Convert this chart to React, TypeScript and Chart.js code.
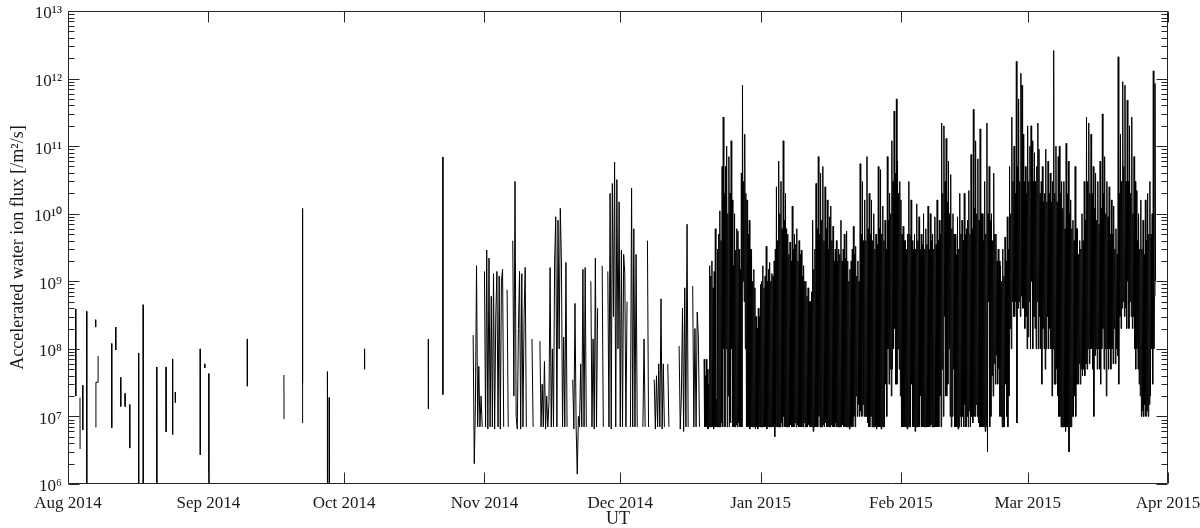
import React, { useEffect, useRef } from 'react';
import { Chart, registerables } from 'chart.js';

Chart.register(...registerables);

// ---- axis ticks (days since 1 Aug 2014) ----
const monthTickDays = [0, 31, 61, 92, 122, 153, 184, 212, 243];
const monthTickLabels = ['Aug 2014', 'Sep 2014', 'Oct 2014', 'Nov 2014', 'Dec 2014', 'Jan 2015', 'Feb 2015', 'Mar 2015', 'Apr 2015'];
const decadeExponents = [6, 7, 8, 9, 10, 11, 12, 13];
const decadeLabels = ['10⁶', '10⁷', '10⁸', '10⁹', '10¹⁰', '10¹¹', '10¹²', '10¹³'];
const minorMultipliers = [2, 3, 4, 5, 6, 7, 8, 9];

// ---- sparse bursts, Aug - Oct 2014 (null = data gap) ----
const burstDays = [
  1.70, 1.72, 1.73, 2.65, 2.67, 2.68, 3.25, 3.27, 3.28, 4.13, 4.15, 4.16,
  6.10, 6.12, 6.13, 6.15, 6.17, 6.63, 6.65, 6.66, 9.65, 9.67, 9.68,
  10.54, 10.56, 10.57, 11.64, 11.66, 11.67, 12.60, 12.62, 12.63, 13.63, 13.65, 13.66,
  15.60, 15.62, 15.63, 16.60, 16.62, 16.63, 19.60, 19.62, 19.63, 21.65, 21.67, 21.68,
  23.10, 23.12, 23.13, 23.70, 23.72, 23.73, 29.20, 29.22, 29.23, 30.20, 30.22, 30.23,
  31.10, 31.12, 31.13, 39.60, 39.62, 39.63, 47.70, 47.72, 47.73,
  51.78, 51.80, 51.82, 51.84, 51.86, 51.87, 57.30, 57.32, 57.33, 57.70, 57.72, 57.73,
  65.50, 65.52, 65.53, 79.60, 79.62, 79.63, 82.80, 82.82, 82.83,
];
const burstFlux = [
  3.9e8, 2.0e7, null, 1.9e7, 3.3e6, null, 2.9e7, 6.3e6, null, 3.6e8, 8e5, null,
  2.7e8, 2.1e8, null, 6.9e6, 3.2e7, 3.2e7, 7.8e7, null, 1.2e8, 6.8e6, null,
  2.1e8, 9.6e7, null, 3.8e7, 1.4e7, null, 2.2e7, 1.4e7, null, 1.5e7, 3.4e6, null,
  8.7e7, 8e5, null, 4.5e8, 8e5, null, 5.4e7, 8e5, null, 5.4e7, 5.9e6, null,
  7.1e7, 5.4e6, null, 2.3e7, 1.6e7, null, 1.0e8, 2.7e6, null, 6.0e7, 5.2e7, null,
  4.3e7, 8e5, null, 1.4e8, 2.8e7, null, 4.1e7, 9.1e6, null,
  8e6, 1.2e10, 3e7, 2.9e8, 3.1e7, null, 4.6e7, 8e5, null, 1.9e7, 8e5, null,
  1.0e8, 5.0e7, null, 1.4e8, 1.3e7, null, 6.9e10, 2.1e7, null,
];

// ---- record from 28 Oct 2014, one value every 6 h (null = gap) ----
const autumnStartDay = 89;
const autumnStepDays = 0.25;
const autumnFlux = [
  null, null, 1.6e8, 2e6,      // 89
  1.5e7, 1.7e9, 7e6, 5.5e7,    // 90
  7e6, 2e7, 7e6, null,         // 91
  1.4e9, 7e6, 2.9e9, 6.5e6,    // 92
  2.2e9, 7e6, 6e8, 7e6,        // 93
  1.3e9, 6.5e6, 3e8, 1.4e9,    // 94
  7e6, 1.2e9, 6.5e6, 1e9,      // 95
  1.5e9, 7e6, null, null,      // 96
  7.5e8, 7e6, null, null,      // 97
  null, 4e9, 2e7, 3e10,        // 98
  1e7, 6.5e6, 2e8, 1.4e9,      // 99
  6.5e6, 1.3e9, 7e6, 3e8,      // 100
  1.6e9, 7e6, null, null,      // 101
  null, null, 1.4e8, 7e6,      // 102
  null, null, null, null,      // 103
  null, 1.3e8, 7e6, 3e7,       // 104
  7e6, 6.5e7, 6.5e6, 2e7,      // 105
  7e6, 1.6e7, 1.6e9, 7e6,      // 106
  1e8, 7e6, 2e9, 9e9,          // 107
  7e6, 8e9, 1e8, 1.2e10,       // 108
  2e9, 7e6, 1.5e8, 7e6,        // 109
  1.9e9, 7e6, null, null,      // 110
  null, null, 3.5e7, 6.5e6,    // 111
  4.7e8, 7e6, 1.4e6, 1e7,      // 112
  7e6, 6e7, 7e6, 1.5e9,        // 113
  7e6, 1.6e9, 7e6, null,       // 114
  null, null, 1e9, 7e6,        // 115
  1.4e8, 6.5e6, 2.2e9, 7e6,    // 116
  4e8, null, null, null,       // 117
  1.7e9, 7e6, null, null,      // 118
  null, 1.4e9, 7e6, 2e10,      // 119
  6.5e6, 2.8e10, 3e8, 5.8e10,  // 120
  7e6, 3.2e10, 1e8, 1.5e10,    // 121
  7e6, 2.9e9, 7e6, 2.5e9,      // 122
  1.3e9, 7e6, 5e8, null,       // 123
  null, 7e6, 2.4e10, 7e6,      // 124
  6e9, 7e6, 2.5e9, 7e6,        // 125
  null, null, null, null,      // 126
  7e6, 1.4e8, 7e6, null,       // 127
  4e9, 7e6, null, null,        // 128
  null, null, 3.5e7, 6.5e6,    // 129
  4e7, 7e6, 6e7, 7e6,          // 130
  5.5e8, 6.5e6, 6e7, 7e6,      // 131
  null, null, 6e7, 7e6,        // 132
  null, null, null, null,      // 133
  null, null, null, null,      // 134
  1.1e8, 6.5e6, 2e7, 4e8,      // 135
  6e6, 8e8, 7e6, 7e9,          // 136
  7e6, null, null, null,       // 137
  8.5e8, 7e6, 2e8, 7e6,        // 138
  3.5e8, 1.5e8, 7e6, null,     // 139
];

// ---- record from 19 Dec 2014, one value every 3 h (null = gap) ----
const winterStartDay = 140;
const winterStepDays = 0.125;
const winterFlux = [
  null, null, null, null, 7e7, 7e6, 4e7, 7e6,                 // 140
  7e7, 7e6, 5e7, 6.5e6, 3e7, 7e6, 1.7e9, 7e6,                 // 141
  1.2e9, 7e6, 2e9, 7e6, 8e8, 6.5e6, 1.4e9, 7e6,               // 142
  6e9, 7e6, 1.8e7, 7e6, 3e9, 7e6, 5e9, 7e6,                   // 143
  1.1e10, 7e6, 4e9, 8e6, 5e10, 7e6, 2.7e11, 1e8,              // 144
  2e10, 7e6, 5e10, 1e8, 1e11, 7e6, 1e10, 2e7,                 // 145
  7e10, 7e6, 2e10, 8e6, 1.2e11, 1e8, 1.6e10, 7e6,             // 146
  1.7e9, 7e6, 1e10, 7e6, 2.9e9, 7.5e6, 6e9, 7e6,              // 147
  5.5e9, 8e6, 3e9, 7e6, 1.5e9, 7e6, 4e10, 7e6,                // 148
  8e11, 1e9, 3e10, 5e8, 1.5e11, 1e8, 2e10, 7e6,               // 149
  1.6e10, 7e6, 5e9, 7e6, 8e9, 6.5e6, 3e9, 7e6,                // 150
  3e9, 7e6, 1e9, 7e6, 1.5e9, 7e6, 8e8, 6.5e6,                 // 151
  3e8, 7e6, 2e8, 6.5e6, 4e8, 7e6, 3e8, 7e6,                   // 152
  9e8, 7e6, 1e9, 7e6, 1.7e9, 7e6, 8e8, 7e6,                   // 153
  1.2e9, 7e6, 3.3e9, 6.5e6, 1e9, 7e6, 1.5e9, 7e6,             // 154
  1.9e9, 7e6, 1e9, 7e6, 1.3e9, 7e6, 1.2e9, 7e6,               // 155
  2e9, 5e6, 3e9, 7e6, 2.5e10, 7e6, 4e9, 7e6,                  // 156
  6e10, 7e6, 1e10, 7e6, 3e10, 8e6, 6e9, 7e6,                  // 157
  1.2e11, 1e7, 8e9, 7e6, 2e10, 7e6, 6e9, 7e6,                 // 158
  5e9, 7e6, 2.5e9, 7e6, 3.8e9, 7.5e6, 2e9, 7e6,               // 159
  1.3e10, 7e6, 3e9, 7e6, 5e9, 8e6, 3.5e9, 7e6,                // 160
  6e9, 7.5e6, 2e9, 7e6, 4e9, 7e6, 2.5e9, 7e6,                 // 161
  2.9e9, 7e6, 1.2e9, 7e6, 1.7e9, 8e6, 1e9, 7e6,               // 162
  1e9, 7e6, 6e8, 7e6, 8e8, 7.5e6, 5e8, 7e6,                   // 163
  5e8, 7e6, 7e8, 7e6, 8e9, 6e6, 1.5e9, 7e6,                   // 164
  3e9, 7e6, 2.8e10, 7e6, 6e9, 7e6, 7e10, 1e7,                 // 165
  5e9, 7e6, 4e10, 7e6, 8e9, 7e6, 5e10, 7.5e6,                 // 166
  4e9, 7e6, 2.5e10, 8e6, 6e9, 7e6, 1.6e10, 7e6,               // 167
  3e9, 7e6, 9e9, 7e6, 1.3e10, 7.5e6, 4e9, 7e6,                // 168
  6.5e9, 7e6, 2e9, 7e6, 3e9, 8e6, 4e9, 7e6,                   // 169
  2e9, 7e6, 3e9, 7e6, 2.5e9, 7e6, 8e9, 7e6,                   // 170
  2e9, 7.5e6, 3e9, 7e6, 5e9, 7e6, 2.2e9, 7e6,                 // 171
  5.5e9, 7e6, 2e9, 7e6, 1e9, 6.5e6, 1.5e9, 7e6,               // 172
  2e9, 7e6, 3e9, 7e6, 6.5e9, 1e7, 2.5e9, 7e6,                 // 173
  3.3e9, 2e7, 1.2e9, 1e7, 2e9, 1.5e7, 1e9, 1e7,               // 174
  5.5e10, 1.2e7, 5e9, 1e7, 3e10, 1.5e7, 4e9, 1e7,             // 175
  1.6e10, 1e7, 4e9, 1e7, 7e10, 8e6, 6e9, 7e6,                 // 176
  2e10, 7e6, 5e9, 1e7, 1.6e10, 7e6, 4e9, 7e6,                 // 177
  1e10, 7e6, 3e9, 7e6, 5e9, 6.5e6, 3.5e9, 7e6,                // 178
  5e10, 7e6, 6e9, 7e6, 4.5e10, 6.5e6, 5e9, 7e6,               // 179
  1.3e10, 7e6, 4e9, 7e6, 8e9, 3e7, 3e9, 1e7,                  // 180
  7e10, 1e8, 8e9, 3e7, 2e10, 5e7, 1e10, 2e7,                  // 181
  1.2e11, 5e7, 3e10, 1e8, 3.3e11, 2e8, 4e10, 3e7,             // 182
  5e11, 3e7, 6e10, 1e8, 2e10, 5e7, 3e10, 2e7,                 // 183
  1.6e10, 7e6, 5e9, 7e6, 6.5e9, 7e6, 4e9, 7e6,                // 184
  4e9, 7e6, 3e9, 6.5e6, 5e9, 7e6, 3e10, 7e6,                  // 185
  5e9, 7e6, 1.6e10, 3e7, 4e9, 7e6, 3e9, 7e6,                  // 186
  5e9, 6e6, 3e9, 7e6, 1.4e10, 7e6, 4e9, 7e6,                  // 187
  9e9, 7e6, 3e9, 2e7, 5e9, 7e6, 3.5e9, 7e6,                   // 188
  1e10, 7e6, 3e9, 7e6, 6e9, 7e6, 3.5e9, 7e6,                  // 189
  1.3e10, 7e6, 3e9, 7e6, 1e10, 7.5e6, 4e9, 7e6,               // 190
  5e9, 7e6, 3e9, 7e6, 9e9, 7e6, 3.5e9, 7e6,                   // 191
  1.6e10, 7e6, 4e9, 7e6, 8e9, 2e7, 5e9, 7e6,                  // 192
  2.2e11, 5e7, 2e10, 1e7, 2e11, 3e8, 3e10, 2e7,               // 193
  1.3e11, 2e7, 1.5e10, 3e7, 6e10, 1e8, 1e10, 1e7,             // 194
  3.8e10, 7e6, 6e9, 1e7, 1e10, 5e7, 5e9, 7e6,                 // 195
  5e9, 7e6, 2.5e9, 7e6, 9e9, 6.5e6, 3e9, 7e6,                 // 196
  2e10, 1e7, 5e9, 7e6, 8e9, 1e7, 4e9, 7e6,                    // 197
  2e10, 1.5e7, 5e9, 7e6, 6e9, 1e7, 8e9, 7e6,                  // 198
  2.2e10, 1.2e7, 5e9, 7e6, 7.5e10, 1e7, 6e9, 8e6,             // 199
  3.5e11, 1e7, 1.2e10, 1e7, 1.2e11, 1.5e7, 1e10, 1e7,         // 200
  6.5e10, 8e6, 8e9, 7e6, 1.8e11, 7e6, 1e10, 7e6,              // 201
  1e10, 7e6, 4e9, 7e6, 3e10, 6e6, 5e9, 7e6,                   // 202
  2.2e11, 3e6, 1e10, 5e8, 5e10, 7e6, 8e9, 1e7,                // 203
  1e10, 4e7, 4e9, 2e7, 4e10, 6e7, 5e9, 3e7,                   // 204
  5e9, 8e7, 2e9, 3e7, 3e9, 5e7, 2e9, 1e7,                     // 205
  1.7e9, 1e7, 1e9, 7e6, 3e9, 7e6, 1.2e9, 7e6,                 // 206
  4.5e9, 3e7, 2e9, 1e7, 9e9, 7e6, 3e9, 2e7,                   // 207
  5e10, 2e8, 1e10, 1e8, 2.7e11, 5e8, 3e10, 3e8,               // 208
  1e11, 3e8, 2e10, 5e8, 1.8e12, 8e6, 5e10, 4e8,               // 209
  5e11, 5e8, 3e10, 3e8, 1.2e12, 6e8, 8e11, 4e8,               // 210
  1.5e11, 4e8, 3e10, 2e8, 5e10, 3e8, 2e10, 1e8,               // 211
  2e11, 1.5e8, 3e10, 5e8, 1e11, 1e8, 2e11, 1e9,               // 212
  1.2e11, 1e8, 3e10, 3e8, 8e10, 2e8, 3e10, 1e8,               // 213
  5e10, 5e8, 2.2e11, 1e8, 9e10, 3e8, 2e10, 1e8,               // 214
  3e10, 3e7, 5e10, 2e8, 1.5e10, 1e8, 2e10, 5e7,               // 215
  9e10, 1e8, 1.5e10, 3e8, 6e10, 1e8, 2e10, 2e8,               // 216
  4e10, 1e8, 1.5e10, 2e7, 3e10, 1e8, 2.6e12, 3e7,             // 217
  2e10, 3e7, 1e11, 5e7, 1.5e10, 2e7, 7e10, 1e7,               // 218
  1e11, 1e7, 2e10, 7e6, 3e10, 7e6, 1.2e10, 7e6,               // 219
  3e10, 7e6, 6e9, 6e6, 1.1e11, 7e6, 2e10, 7e6,                // 220
  6e10, 3e6, 1e10, 7e6, 1.6e10, 7e6, 6e9, 1e7,                // 221
  8e9, 1e7, 4e9, 2e7, 5e10, 1e7, 6e9, 3e7,                    // 222
  6e9, 3e7, 2.5e9, 6e7, 4e9, 3e7, 3e9, 5e7,                   // 223
  1e10, 4e7, 4e9, 5e7, 3e10, 4e7, 8e9, 6e7,                   // 224
  2.7e11, 5e7, 3e10, 1e8, 2.2e11, 6e7, 2e10, 1e8,             // 225
  1.5e11, 1e8, 2e10, 5e7, 5e10, 1e7, 1.2e10, 8e7,             // 226
  4e10, 1e8, 8e9, 5e7, 3e10, 1e8, 7e9, 5e7,                   // 227
  6e10, 3e7, 1.2e10, 1e8, 3e11, 2e8, 2e10, 5e7,               // 228
  7e10, 1e8, 1e10, 2e7, 3e10, 1e8, 9e9, 5e7,                  // 229
  2.5e10, 1e8, 5e9, 5e7, 1.6e10, 1e8, 5e9, 6e7,               // 230
  1.3e10, 2e8, 3e9, 6e7, 6e9, 1e8, 2.5e9, 8e7,                // 231
  2.1e12, 3e7, 2e10, 3e8, 1.5e11, 2e8, 3e10, 4e8,             // 232
  9e11, 5e8, 5e10, 3e8, 8e11, 4e8, 3e10, 2e8,                 // 233
  4.8e11, 1e9, 3e10, 2e8, 2e11, 5e8, 2e10, 3e8,               // 234
  2.7e11, 2e8, 1e10, 3e8, 7e10, 1e8, 3e10, 5e7,               // 235
  2.2e10, 1e8, 4e9, 5e7, 1e10, 3e7, 3e9, 2e7,                 // 236
  1.6e10, 1e7, 3e9, 1.2e7, 8e9, 1e7, 2.5e9, 1.5e7,            // 237
  1.6e10, 1e7, 4e9, 1.2e7, 2e10, 1e7, 5e9, 1.5e7,             // 238
  3e10, 2e7, 5e9, 1e8, 1e10, 3e7, 1.3e12, 1e8,                // 239
  6e8, 8.5e11, 1e9,                                           // 240
];

const FONT = "'Liberation Serif', 'Times New Roman', serif";
const INK = '#1a1a1a';

const axesFramePlugin = {
  id: 'axesFrame',
  afterDatasetsDraw(chart: any) {
    const { ctx, chartArea: a, scales } = chart;
    const xs = scales.x;
    const ys = scales.y;
    const L = Math.round(a.left) + 0.5;
    const R = Math.round(a.right) - 0.5;
    const T = Math.round(a.top) + 0.5;
    const B = Math.round(a.bottom) - 0.5;
    const major = 11;
    const minor = 6;
    ctx.save();
    ctx.strokeStyle = '#262626';
    ctx.lineWidth = 1;
    ctx.beginPath();
    ctx.rect(L, T, R - L, B - T);
    monthTickDays.forEach((d) => {
      const px = Math.round(xs.getPixelForValue(d)) + 0.5;
      ctx.moveTo(px, B);
      ctx.lineTo(px, B - major);
      ctx.moveTo(px, T);
      ctx.lineTo(px, T + major);
    });
    decadeExponents.forEach((e) => {
      const py = Math.round(ys.getPixelForValue(Math.pow(10, e))) + 0.5;
      ctx.moveTo(L, py);
      ctx.lineTo(L + major, py);
      ctx.moveTo(R, py);
      ctx.lineTo(R - major, py);
      if (e < 13) {
        minorMultipliers.forEach((m) => {
          const pm = Math.round(ys.getPixelForValue(m * Math.pow(10, e))) + 0.5;
          ctx.moveTo(L, pm);
          ctx.lineTo(L + minor, pm);
          ctx.moveTo(R, pm);
          ctx.lineTo(R - minor, pm);
        });
      }
    });
    ctx.stroke();
    ctx.restore();
  },
};

export default function App() {
  const canvasRef = useRef<HTMLCanvasElement | null>(null);

  useEffect(() => {
    document.body.style.margin = '0';
    const canvas = canvasRef.current;
    if (!canvas) return;

    const points: { x: number; y: number | null }[] = [];
    burstDays.forEach((d, i) => points.push({ x: d, y: burstFlux[i] }));
    points.push({ x: autumnStartDay - 0.5, y: null });
    autumnFlux.forEach((v, i) => points.push({ x: autumnStartDay + i * autumnStepDays, y: v }));
    winterFlux.forEach((v, i) => points.push({ x: winterStartDay + i * winterStepDays, y: v }));

    const chart = new Chart(canvas, {
      type: 'line',
      data: {
        datasets: [
          {
            data: points as any,
            borderColor: '#000000',
            borderWidth: 1,
            pointRadius: 0,
            tension: 0,
            spanGaps: false,
            fill: false,
          },
        ],
      },
      options: {
        responsive: false,
        animation: false,
        events: [],
        layout: { padding: { top: 11, right: 32, left: 0, bottom: 0 } },
        plugins: {
          legend: { display: false },
          tooltip: { enabled: false },
        },
        scales: {
          x: {
            type: 'linear',
            min: 0,
            max: 243,
            afterBuildTicks: (s: any) => {
              s.ticks = monthTickDays.map((v) => ({ value: v }));
            },
            afterFit: (s: any) => {
              s.height = 44;
              s.paddingLeft = 0;
              s.paddingRight = 0;
            },
            grid: { display: false, drawTicks: false },
            border: { display: false },
            ticks: {
              autoSkip: false,
              maxRotation: 0,
              padding: 9,
              color: INK,
              font: { family: FONT, size: 17 },
              callback: (v: any) => {
                const idx = monthTickDays.indexOf(Number(v));
                return idx >= 0 ? monthTickLabels[idx] : '';
              },
            },
            title: {
              display: true,
              text: 'UT',
              color: INK,
              padding: 0,
              font: { family: FONT, size: 18, lineHeight: 1 },
            },
          },
          y: {
            type: 'logarithmic',
            min: 1e6,
            max: 1e13,
            afterBuildTicks: (s: any) => {
              s.ticks = decadeExponents.map((e) => ({ value: Math.pow(10, e) }));
            },
            afterFit: (s: any) => {
              s.width = 68;
              s.paddingTop = 0;
              s.paddingBottom = 0;
            },
            grid: { display: false, drawTicks: false },
            border: { display: false },
            ticks: {
              autoSkip: false,
              padding: 6,
              labelOffset: 3,
              color: INK,
              font: { family: FONT, size: 17 },
              callback: (v: any) => {
                const idx = decadeExponents.indexOf(Math.round(Math.log10(Number(v))));
                return idx >= 0 ? decadeLabels[idx] : '';
              },
            },
            title: {
              display: true,
              text: 'Accelerated water ion flux [/m²/s]',
              color: INK,
              padding: { top: 9, bottom: 0 },
              font: { family: FONT, size: 18, lineHeight: 1 },
            },
          },
        },
      },
      plugins: [axesFramePlugin],
    });

    return () => {
      chart.destroy();
    };
  }, []);

  return (
    <div style={{ width: 1200, height: 528, background: '#ffffff' }}>
      <canvas ref={canvasRef} width={1200} height={528} style={{ display: 'block' }} />
    </div>
  );
}
